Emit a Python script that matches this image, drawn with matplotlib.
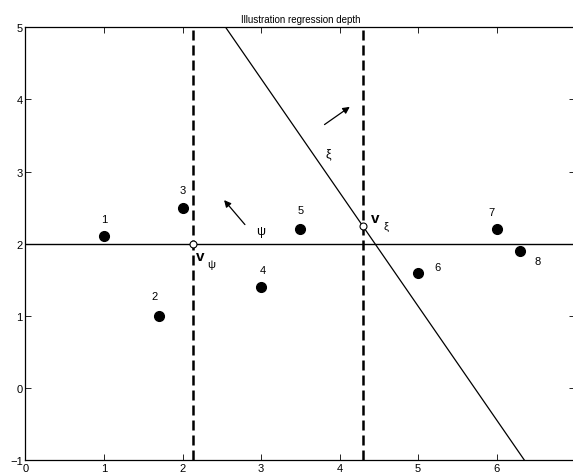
import numpy as np
import matplotlib
matplotlib.use("Agg")
from matplotlib import pyplot as plt

plt.rcParams['font.family'] = ['Liberation Sans', 'DejaVu Sans']

## data points and their labels
px = [1.0, 1.7, 2.0, 3.0, 3.5, 5.0, 6.0, 6.3]
py = [2.1, 1.0, 2.5, 1.4, 2.2, 1.6, 2.2, 1.9]
plabels = ['1', '2', '3', '4', '5', '6', '7', '8']
lab_x = [1.0, 1.64, 2.0, 3.02, 3.51, 5.25, 5.93, 6.52]
lab_y = [2.34, 1.27, 2.75, 1.64, 2.47, 1.67, 2.44, 1.76]

## candidate fits
psi_level = 2.0
xi_top = (2.55, 5.0)
xi_bottom = (6.354, -1.0)
v_psi_x = 2.14
v_xi_x = 4.295

xi_slope = (xi_bottom[1] - xi_top[1]) / (xi_bottom[0] - xi_top[0])
v_xi_y = xi_top[1] + xi_slope * (v_xi_x - xi_top[0])

fig = plt.figure(figsize=(5.73, 4.77), dpi=100)
ax = fig.add_axes([0.0445, 0.0335, 0.959, 0.907])

ax.axhline(psi_level, color='k', lw=1.0)
ax.plot([xi_top[0], xi_bottom[0]], [xi_top[1], xi_bottom[1]], color='k', lw=0.9)
ax.axvline(v_psi_x, color='k', lw=1.8, ls=(0, (4, 2)))
ax.axvline(v_xi_x, color='k', lw=1.8, ls=(0, (4, 2)))

ax.plot(px, py, 'o', color='k', ms=7)
for x, y, t in zip(lab_x, lab_y, plabels):
    ax.text(x, y, t, fontsize=8, ha='center', va='center')

ax.plot([v_psi_x, v_xi_x], [psi_level, v_xi_y], 'o', mfc='white', mec='k',
        ms=5, mew=0.8)

# normal directions
ax.annotate('', xy=(2.507, 2.634), xytext=(2.818, 2.236),
            arrowprops=dict(arrowstyle='-|>', color='k', lw=0.9,
                            mutation_scale=10))
ax.annotate('', xy=(4.16, 3.92), xytext=(3.78, 3.63),
            arrowprops=dict(arrowstyle='-|>', color='k', lw=0.9,
                            mutation_scale=10))

ax.text(2.99, 2.18, '\u03c8', fontsize=9, ha='center', va='center')
ax.text(3.86, 3.26, '\u03be', fontsize=9, ha='center', va='center')
ax.text(2.22, 1.83, 'v', fontsize=11, fontweight='bold', ha='center', va='center')
ax.text(2.37, 1.72, '\u03c8', fontsize=8, ha='center', va='center')
ax.text(4.45, 2.36, 'v', fontsize=11, fontweight='bold', ha='center', va='center')
ax.text(4.59, 2.24, '\u03be', fontsize=8, ha='center', va='center')

ax.set_xlim(0, 7)
ax.set_ylim(-1, 5)
ax.set_xticks(range(0, 8))
ax.set_xticklabels(['0', '1', '2', '3', '4', '5', '6', ''])
ax.set_yticks(range(-1, 6))
ax.set_yticklabels(['\u22121', '0', '1', '2', '3', '4', '5'])
ax.tick_params(direction='in', length=4, width=0.6, labelsize=8,
               top=True, right=True, pad=2)
for s in ax.spines.values():
    s.set_linewidth(0.9)
ax.set_title('Illustration regression depth', fontsize=7, pad=4)

fig.savefig('out.png', dpi=100)
